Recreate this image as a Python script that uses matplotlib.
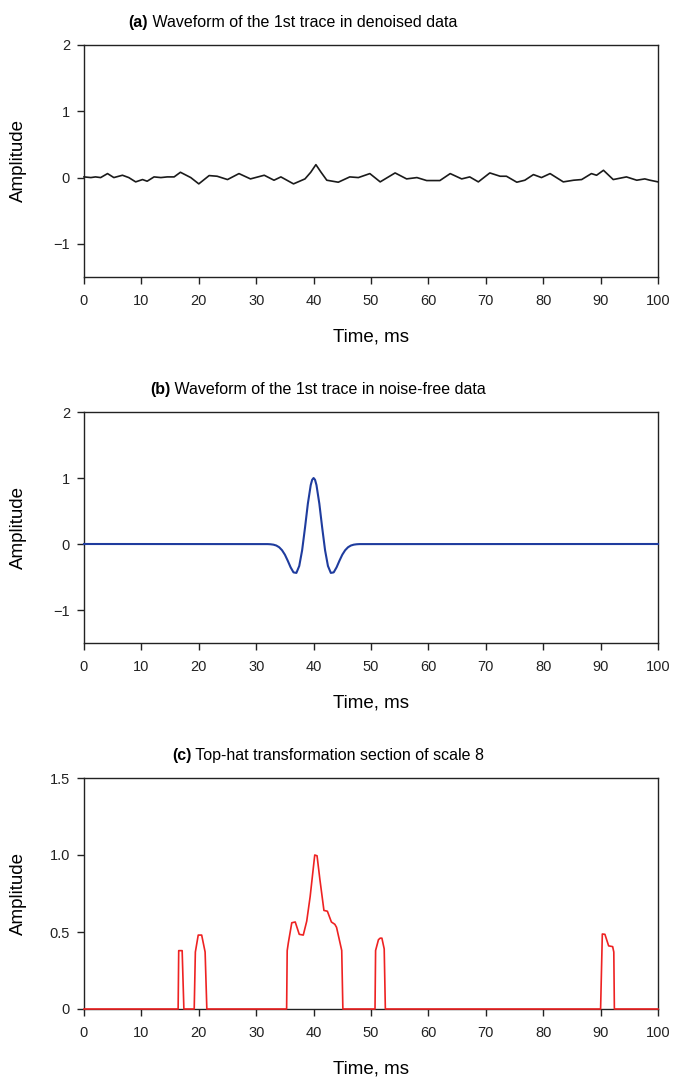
import matplotlib
matplotlib.use('Agg')
import matplotlib.pyplot as plt

plt.rcParams['font.family'] = ['Liberation Sans', 'DejaVu Sans']

# (a) denoised trace
t_a = [0, 1.2, 2.0, 2.9, 4.1, 5.2, 6.7, 7.8, 9.0, 10.2, 11.0, 12.2, 13.4, 14.5, 15.7,
       16.8, 18.6, 20.0, 21.8, 23.2, 25.0, 27.0, 29.0, 31.4, 33.1, 34.3, 36.5, 38.5,
       39.5, 40.4, 41.3, 42.3, 44.3, 46.3, 47.8, 49.8, 51.6, 54.2, 56.2, 58.0, 59.7,
       62.0, 63.8, 65.8, 67.2, 68.7, 70.7, 72.5, 73.6, 75.4, 76.8, 78.3, 79.7, 81.2,
       83.5, 85.3, 86.7, 88.4, 89.3, 90.5, 92.2, 94.5, 96.3, 97.7, 98.6, 100]
y_a = [0.01, 0.0, 0.01, 0.0, 0.06, 0.0, 0.035, 0.0, -0.065, -0.03, -0.055, 0.01, 0.0,
       0.01, 0.01, 0.08, 0.0, -0.095, 0.03, 0.02, -0.03, 0.06, -0.02, 0.035, -0.04,
       0.01, -0.095, -0.02, 0.08, 0.195, 0.08, -0.04, -0.07, 0.01, 0.0, 0.06, -0.065,
       0.07, -0.02, 0.0, -0.045, -0.045, 0.06, -0.02, 0.01, -0.065, 0.07, 0.02, 0.02,
       -0.07, -0.04, 0.045, 0.0, 0.06, -0.065, -0.04, -0.03, 0.06, 0.035, 0.11, -0.03,
       0.01, -0.04, -0.02, -0.04, -0.065]

# (b) noise-free wavelet
t_b = [0, 32.0, 32.5, 33.0, 33.5, 34.0, 34.5, 35.0, 35.5, 36.0, 36.5, 37.0, 37.5,
       38.0, 38.5, 39.0, 39.5, 39.75, 40.0, 40.25, 40.5, 41.0, 41.5, 42.0, 42.5, 43.0,
       43.5, 44.0, 44.5, 45.0, 45.5, 46.0, 46.5, 47.0, 47.5, 48.0, 100]
y_b = [0, -0.0015, -0.004, -0.010, -0.023, -0.049, -0.094, -0.162, -0.254, -0.354,
       -0.430, -0.438, -0.333, -0.096, 0.245, 0.611, 0.893, 0.973, 1.0, 0.973, 0.893,
       0.611, 0.245, -0.096, -0.333, -0.438, -0.430, -0.354, -0.254, -0.162, -0.094,
       -0.049, -0.023, -0.010, -0.004, -0.0015, 0]

# (c) top-hat transformation, scale 8
t_c = [0, 16.4, 16.5, 17.1, 17.4, 19.2, 19.4, 19.9, 20.5, 21.1, 21.4, 35.3, 35.4,
       35.6, 36.2, 36.8, 37.5, 38.2, 38.8, 39.4, 40.2, 40.6, 41.1, 41.8, 42.4, 43.1,
       43.7, 44.0, 44.9, 45.1, 50.7, 50.8, 51.3, 51.6, 51.9, 52.3, 52.5, 90.0, 90.3,
       90.75, 91.4, 92.1, 92.3, 92.4, 100]
y_c = [0, 0, 0.379, 0.379, 0, 0, 0.37, 0.48, 0.48, 0.37, 0, 0, 0.379, 0.43, 0.56,
       0.565, 0.485, 0.48, 0.57, 0.73, 1.0, 0.995, 0.84, 0.64, 0.635, 0.565, 0.55,
       0.53, 0.38, 0, 0, 0.38, 0.45, 0.46, 0.46, 0.39, 0, 0, 0.487, 0.485, 0.41, 0.405,
       0.37, 0, 0]

W, H = 673, 1077
fig = plt.figure(figsize=(W / 100, H / 100), dpi=100)

panels = [
    (45, 277, t_a, y_a, '#1a1a1a', 1.2, '(a)', ' Waveform of the 1st trace in denoised data', 128),
    (412, 643, t_b, y_b, '#1f3c9e', 1.5, '(b)', ' Waveform of the 1st trace in noise-free data', 150),
    (778, 1009, t_c, y_c, '#ee2222', 1.2, '(c)', ' Top-hat transformation section of scale 8', 172),
]

for i, (top, bot, t, y, col, lw, tag, title, tx) in enumerate(panels):
    ax = fig.add_axes([84 / W, 1 - bot / H, 574 / W, (bot - top) / H])
    ax.plot(t, y, color=col, lw=lw, clip_on=False, zorder=3)
    ax.set_xlim(0, 100)
    ax.set_xticks(range(0, 101, 10))
    if i < 2:
        ax.set_ylim(-1.5, 2)
        ax.set_yticks([-1, 0, 1, 2])
        ax.set_yticklabels(['\u22121', '0', '1', '2'])
    else:
        ax.set_ylim(0, 1.5)
        ax.set_yticks([0, 0.5, 1.0, 1.5])
        ax.set_yticklabels(['0', '0.5', '1.0', '1.5'])
    ax.tick_params(direction='out', length=5, width=1, labelsize=10.5, pad=5, colors='#222222')
    ax.tick_params(axis='x', pad=7)
    for s in ax.spines.values():
        s.set_linewidth(1.0)
        s.set_color('#222222')
    ax.set_xlabel('Time, ms', fontsize=13.5)
    ax.set_ylabel('Amplitude', fontsize=13.5)
    ax.xaxis.set_label_coords(0.5, -51 / (bot - top))
    ax.yaxis.set_label_coords(-57 / 574, 0.5)

    b = fig.text(tx / W, 1 - (top - 15) / H, tag, fontsize=11.5, weight='bold',
                 ha='left', va='bottom')
    fig.axes[-1].annotate(title, xy=(1, 0), xycoords=b, fontsize=11.5,
                          ha='left', va='bottom')

fig.savefig('out.png', dpi=100)
